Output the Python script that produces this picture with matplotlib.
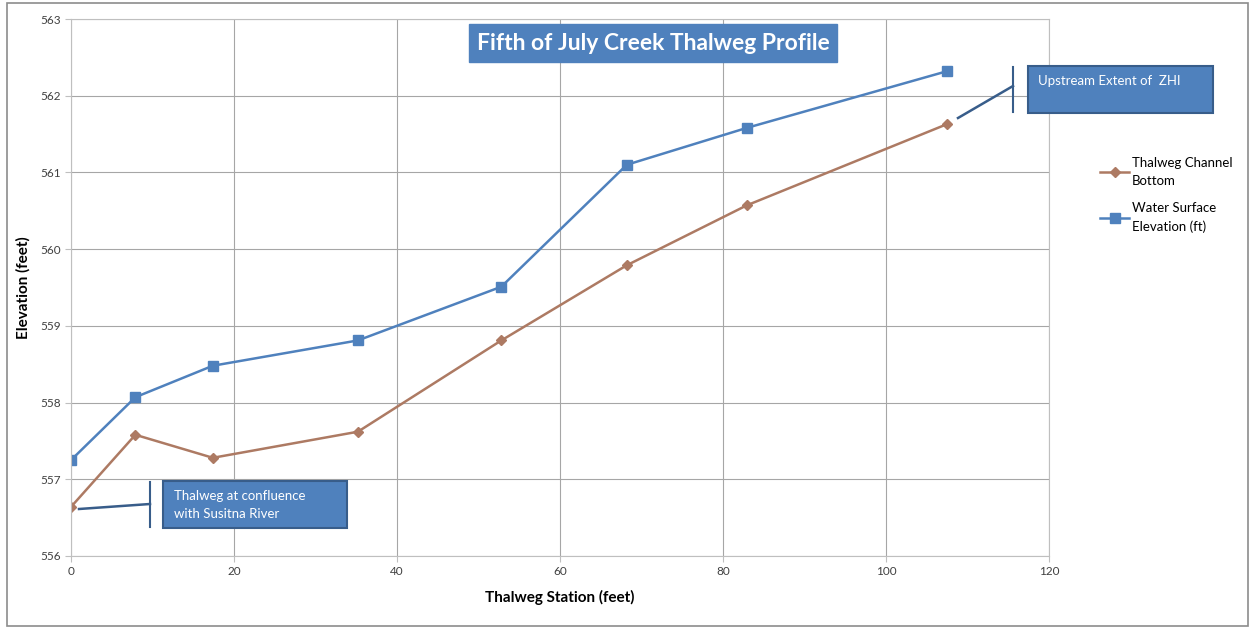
import matplotlib
matplotlib.use("Agg")
import matplotlib.pyplot as plt
from matplotlib.patches import Rectangle
from matplotlib.lines import Line2D

# thalweg profile data
station = [0, 7.9, 17.4, 35.2, 52.8, 68.2, 82.9, 107.5]
channel_bottom = [556.64, 557.58, 557.28, 557.62, 558.81, 559.79, 560.57, 561.63]
water_surface = [557.25, 558.07, 558.48, 558.81, 559.51, 561.10, 561.58, 562.32]
x_ticks = [0, 20, 40, 60, 80, 100, 120]
y_ticks = [556, 557, 558, 559, 560, 561, 562, 563]

W, H = 1252, 629
BLUE = "#4f81bd"
BROWN = "#ad7a63"
EDGE = "#385d8a"
FONT = ["Lato", "DejaVu Sans"]
plt.rcParams["font.family"] = FONT


def px(x, y):
    return x / W, 1 - y / H


fig = plt.figure(figsize=(W / 100, H / 100), dpi=100)
ax = fig.add_axes([71 / W, 1 - 556 / H, (1049 - 71) / W, (556 - 19) / H])

ax.plot(station, channel_bottom, color=BROWN, lw=1.8, marker="D", ms=5,
        label="Thalweg Channel\nBottom")
ax.plot(station, water_surface, color=BLUE, lw=1.8, marker="s", ms=7,
        label="Water Surface\nElevation (ft)")

ax.set_xlim(0, 120)
ax.set_ylim(556, 563)
ax.set_xticks(x_ticks)
ax.set_yticks(y_ticks)
ax.grid(True, color="#a6a6a6", lw=0.8)
ax.set_axisbelow(True)
for s in ax.spines.values():
    s.set_color("#bfbfbf")
ax.tick_params(colors="#bfbfbf", labelcolor="#404040", labelsize=8.5, length=4)

ax.set_xlabel("Thalweg Station (feet)", fontsize=11, fontweight="bold", labelpad=9)
ax.set_ylabel("Elevation (feet)", fontsize=11, fontweight="bold", labelpad=7)

leg = ax.legend(loc="upper left", bbox_to_anchor=(1.04, 0.765), frameon=False,
                fontsize=9.5, handlelength=2.2, labelspacing=1.15, handletextpad=0.2)
for t in leg.get_texts():
    t.set_linespacing(1.6)

# outer border of the chart
fig.patches.append(Rectangle(px(7, 626), (1248 - 7) / W, (626 - 3) / H,
                             transform=fig.transFigure, fill=False,
                             ec="#8c8c8c", lw=1.2))

# title box
fig.text(*px(653, 43), "Fifth of July Creek Thalweg Profile", ha="center", va="center",
         color="white", fontsize=16.5, fontweight="bold",
         bbox=dict(boxstyle="square,pad=0.35", fc=BLUE, ec=BLUE))

# upstream callout
fig.patches.append(Rectangle(px(1028, 113), 185 / W, 47 / H, transform=fig.transFigure,
                             fc=BLUE, ec=EDGE, lw=1.5))
fig.text(*px(1038, 81), "Upstream Extent of  ZHI", color="white", fontsize=9.5,
         ha="left", va="center")
fig.lines.append(Line2D(*zip(px(1013, 67), px(1013, 112)), transform=fig.transFigure,
                        color=EDGE, lw=1.5))
fig.lines.append(Line2D(*zip(px(958, 118), px(1013, 86)), transform=fig.transFigure,
                        color=EDGE, lw=1.8))

# confluence callout
fig.patches.append(Rectangle(px(163, 528), 184 / W, 47 / H, transform=fig.transFigure,
                             fc=BLUE, ec=EDGE, lw=1.5))
fig.text(*px(174, 496), "Thalweg at confluence", color="white", fontsize=9.5,
         ha="left", va="center")
fig.text(*px(174, 514), "with Susitna River", color="white", fontsize=9.5,
         ha="left", va="center")
fig.lines.append(Line2D(*zip(px(150, 482), px(150, 527)), transform=fig.transFigure,
                        color=EDGE, lw=1.5))
fig.lines.append(Line2D(*zip(px(79, 509), px(150, 504)), transform=fig.transFigure,
                        color=EDGE, lw=1.8))

fig.savefig("out.png", dpi=100)
